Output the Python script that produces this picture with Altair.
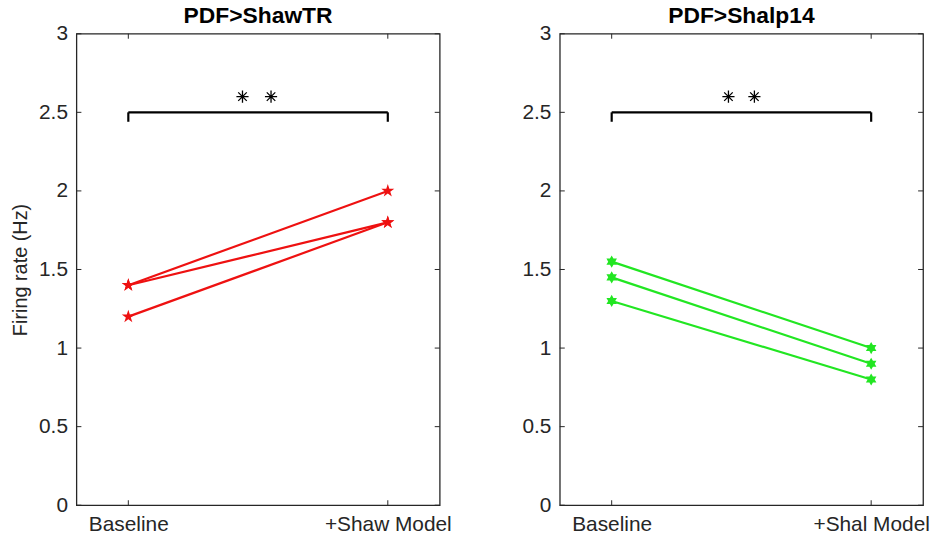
import altair as alt
import pandas as pd

# ---- data ----
left_title = "PDF>ShawTR"
right_title = "PDF>Shalp14"
left_labels = ["Baseline", "+Shaw Model"]
right_labels = ["Baseline", "+Shal Model"]
x_positions = [1, 2]

shaw_baseline = [1.4, 1.4, 1.2]
shaw_model = [2.0, 1.8, 1.8]
shal_baseline = [1.55, 1.45, 1.3]
shal_model = [1.0, 0.9, 0.8]

y_ticks = [0, 0.5, 1, 1.5, 2, 2.5, 3]
bracket_y = 2.5
bracket_end = 2.44
star_y = 2.6
star_x_left = [1.44, 1.55]
star_x_right = [1.45, 1.55]

W, H = 366, 475
FONT = "Liberation Sans"
AX = "#262626"

PENTAGRAM = ("M0,-1L0.2245,-0.309L0.9511,-0.309L0.3633,0.118L0.5878,0.809L0,0.382"
             "L-0.5878,0.809L-0.3633,0.118L-0.9511,-0.309L-0.2245,-0.309Z")
HEXAGRAM = ("M0,-1L0.289,-0.5L0.866,-0.5L0.577,0L0.866,0.5L0.289,0.5L0,1"
            "L-0.289,0.5L-0.866,0.5L-0.577,0L-0.866,-0.5L-0.289,-0.5Z")
ASTERISK = "M-1,0L1,0M0,-1L0,1M-0.7,-0.7L0.7,0.7M-0.7,0.7L0.7,-0.7"


def panel(title, labels, base, model, color, shape, marker_size, star_x, show_ytitle):
    xscale = alt.Scale(domain=[0.8, 2.2], nice=False, zero=False)
    yscale = alt.Scale(domain=[0, 3], nice=False, zero=False)
    label_expr = f"datum.value == 1 ? '{labels[0]}' : '{labels[1]}'"
    xaxis = alt.Axis(values=x_positions, labelExpr=label_expr, grid=False, ticks=False,
                     domain=False, labelFontSize=21, labelFont=FONT, labelColor=AX,
                     labelPadding=8, title=None)
    yaxis_kw = dict(values=y_ticks, format="~g", grid=False, ticks=False, domain=False,
                    labelFontSize=21, labelFont=FONT, labelColor=AX, labelPadding=9)
    if show_ytitle:
        yaxis = alt.Axis(title="Firing rate (Hz)", titleFontSize=20, titleFont=FONT,
                         titleFontWeight="normal", titleColor=AX, titlePadding=8, **yaxis_kw)
    else:
        yaxis = alt.Axis(title=None, **yaxis_kw)

    rows = []
    for i, (b, m) in enumerate(zip(base, model)):
        rows.append({"pair": i, "xv": x_positions[0], "yv": b})
        rows.append({"pair": i, "xv": x_positions[1], "yv": m})
    df = pd.DataFrame(rows)

    X = alt.X("xv:Q", scale=xscale, axis=xaxis)
    Y = alt.Y("yv:Q", scale=yscale, axis=yaxis)

    layers = []
    layers.append(alt.Chart(df).mark_line(color=color, strokeWidth=2.2).encode(
        x=X, y=Y, detail="pair:N"))
    layers.append(alt.Chart(df).mark_point(shape=shape, filled=True, color=color,
                                           size=marker_size, opacity=1).encode(x=X, y=Y))

    hb = pd.DataFrame({"xv": [x_positions[0]], "xe": [x_positions[1]], "yv": [bracket_y]})
    layers.append(alt.Chart(hb).mark_rule(color="black", strokeWidth=2.2).encode(
        x=X, x2="xe:Q", y=Y))
    vb = pd.DataFrame({"xv": x_positions, "yv": [bracket_y] * 2, "ye": [bracket_end] * 2})
    layers.append(alt.Chart(vb).mark_rule(color="black", strokeWidth=2.2).encode(
        x=X, y=Y, y2="ye:Q"))

    sdf = pd.DataFrame({"xv": star_x, "yv": [star_y] * len(star_x)})
    layers.append(alt.Chart(sdf).mark_point(shape=ASTERISK, filled=False, color="black",
                                            strokeWidth=1.3, size=150, opacity=1).encode(x=X, y=Y))

    xt = pd.DataFrame({"xv": x_positions})
    layers.append(alt.Chart(xt).mark_rule(color=AX, strokeWidth=1).encode(
        x=X, y=alt.value(H), y2=alt.value(H - 5)))
    layers.append(alt.Chart(xt).mark_rule(color=AX, strokeWidth=1).encode(
        x=X, y=alt.value(0), y2=alt.value(5)))
    yt = pd.DataFrame({"yv": y_ticks})
    layers.append(alt.Chart(yt).mark_rule(color=AX, strokeWidth=1).encode(
        y=Y, x=alt.value(0), x2=alt.value(5)))
    layers.append(alt.Chart(yt).mark_rule(color=AX, strokeWidth=1).encode(
        y=Y, x=alt.value(W), x2=alt.value(W - 5)))

    return alt.layer(*layers).properties(
        width=W, height=H,
        title=alt.TitleParams(title, fontSize=23, fontWeight="bold", font=FONT,
                              color="black", offset=-5, anchor="middle"))


left = panel(left_title, left_labels, shaw_baseline, shaw_model, "#ee1111", PENTAGRAM, 190,
             star_x_left, True)
right = panel(right_title, right_labels, shal_baseline, shal_model, "#22e622", HEXAGRAM, 150,
              star_x_right, False)

chart = alt.hconcat(left, right, spacing=69).properties(
    padding={"left": 10, "top": 2, "right": 0, "bottom": 0}
).configure_view(stroke=AX, strokeWidth=1.3)

chart.save("out.html", embed_options={"renderer": "svg", "actions": False})
